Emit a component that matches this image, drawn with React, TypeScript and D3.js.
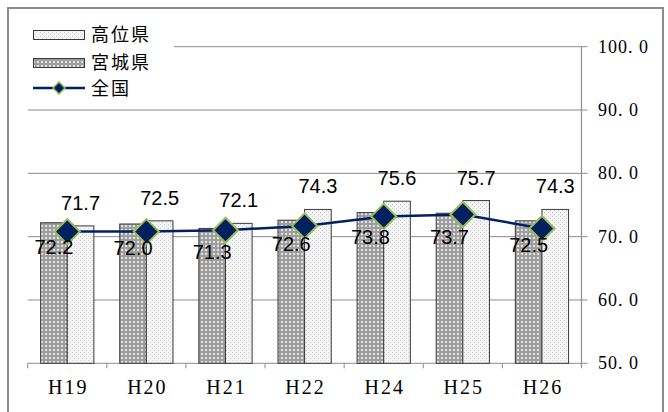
import React from "react";
import * as d3 from "d3";

const categories = ["H19", "H20", "H21", "H22", "H24", "H25", "H26"];
const kochiValues = [71.7, 72.5, 72.1, 74.3, 75.6, 75.7, 74.3];
const miyagiValues = [72.2, 72.0, 71.3, 72.6, 73.8, 73.7, 72.5];
const zenkokuValues = [70.8, 70.8, 71.0, 71.7, 73.2, 73.5, 71.3];
const yTicks = [50, 60, 70, 80, 90, 100];
const seriesNames = ["高位県", "宮城県", "全国"];

const W = 668;
const H = 412;
const plotLeft = 27.7;
const plotRight = 581.5;
const plotTop = 46.7;
const plotBottom = 363.3;

const NAVY = "#002060";
const GREEN = "#9BBB59";
const GRID = "#8c8c8c";

export default function App() {
  const x = d3.scaleBand<string>().domain(categories).range([plotLeft, plotRight]).padding(0);
  const y = d3.scaleLinear().domain([50, 100]).range([plotBottom, plotTop]);
  const groupW = x.bandwidth() * 0.673;
  const barW = groupW / 2;
  const cx = (c: string) => (x(c) as number) + x.bandwidth() / 2;

  const line = d3
    .line<number>()
    .x((_, i) => cx(categories[i]))
    .y((v) => y(v));

  const diamond = (px: number, py: number, r: number) =>
    `M${px},${py - r}L${px + r},${py}L${px},${py + r}L${px - r},${py}Z`;

  const labelFont = "'Liberation Sans', Arial, sans-serif";
  const serif = "'Liberation Serif', 'Times New Roman', serif";
  const cjk = "'Noto Sans CJK JP', 'Noto Sans', sans-serif";

  const boundaries = d3.range(categories.length + 1).map((i) => plotLeft + i * x.bandwidth());

  return (
    <svg width={W} height={H} style={{ position: "absolute", left: 0, top: 0 }}>
      <defs>
        <pattern id="lightPat" width="4" height="4" patternUnits="userSpaceOnUse">
          <rect width="4" height="4" fill="#f3f3f3" />
          <rect x="0" y="0" width="1" height="1" fill="#d6d6d6" />
          <rect x="2" y="2" width="1" height="1" fill="#d6d6d6" />
        </pattern>
        <pattern id="darkPat" width="4" height="4" patternUnits="userSpaceOnUse">
          <rect width="4" height="4" fill="#9e9e9e" />
          <rect x="1" y="1" width="2" height="2" fill="#e4e4e4" />
        </pattern>
      </defs>
      <rect x={0} y={0} width={W} height={H} fill="#fff" />
      {/* outer frame */}
      <rect x={8} y={8} width={655} height={410} fill="none" stroke={GRID} strokeWidth={2} />

      {/* gridlines */}
      {yTicks.map((t) => (
        <line key={"g" + t} x1={plotLeft} x2={plotRight + 6} y1={y(t)} y2={y(t)} stroke={GRID} strokeWidth={1} />
      ))}
      {/* y axis */}
      <line x1={plotRight} x2={plotRight} y1={plotTop} y2={plotBottom + 4} stroke={GRID} strokeWidth={1.2} />
      {/* x axis ticks */}
      {boundaries.map((bx, i) => (
        <line key={"xt" + i} x1={bx} x2={bx} y1={plotBottom} y2={plotBottom + 5} stroke={GRID} strokeWidth={1} />
      ))}

      {/* y labels */}
      {yTicks.map((t) => (
        <text
          key={"yl" + t}
          x={598}
          y={y(t) + 6}
          fontFamily={serif}
          fontSize={18}
          letterSpacing={1}
          fill="#000"
        >
          {t.toFixed(0) + ". 0"}
        </text>
      ))}
      {/* x labels */}
      {categories.map((c) => (
        <text
          key={"xl" + c}
          x={cx(c) + 1}
          y={394}
          textAnchor="middle"
          fontFamily={serif}
          fontSize={20}
          letterSpacing={2}
          fill="#000"
        >
          {c}
        </text>
      ))}

      {/* bars */}
      {categories.map((c, i) => (
        <g key={"b" + c}>
          <rect
            x={cx(c) - barW}
            y={y(miyagiValues[i])}
            width={barW}
            height={plotBottom - y(miyagiValues[i])}
            fill="url(#darkPat)"
            stroke="#3a3a3a"
            strokeWidth={1}
          />
          <rect
            x={cx(c)}
            y={y(kochiValues[i])}
            width={barW}
            height={plotBottom - y(kochiValues[i])}
            fill="url(#lightPat)"
            stroke="#3a3a3a"
            strokeWidth={1}
          />
        </g>
      ))}

      {/* line */}
      <path d={line(zenkokuValues) || ""} fill="none" stroke={NAVY} strokeWidth={2.5} />
      {zenkokuValues.map((v, i) => (
        <path
          key={"d" + i}
          d={diamond(cx(categories[i]), y(v), 12.5)}
          fill={NAVY}
          stroke={GREEN}
          strokeWidth={2}
        />
      ))}

      {/* data labels */}
      {categories.map((c, i) => (
        <g key={"l" + c}>
          <text
            x={cx(c) + barW / 2}
            y={y(kochiValues[i]) - 23 + 7}
            textAnchor="middle"
            fontFamily={labelFont}
            fontSize={20}
            fill="#000"
          >
            {kochiValues[i].toFixed(1)}
          </text>
          <text
            x={cx(c) - barW / 2}
            y={y(miyagiValues[i]) + 24 + 7}
            textAnchor="middle"
            fontFamily={labelFont}
            fontSize={20}
            fill="#000"
          >
            {miyagiValues[i].toFixed(1)}
          </text>
        </g>
      ))}

      {/* legend */}
      <rect x={22} y={14} width={152} height={88} fill="#fff" />
      <rect x={33.5} y={30.5} width={51} height={9} fill="url(#lightPat)" stroke="#3a3a3a" strokeWidth={1} />
      <text x={91} y={41} fontFamily={cjk} fontSize={18} letterSpacing={2} fill="#000">
        {seriesNames[0]}
      </text>
      <rect x={33.5} y={58.5} width={51} height={9} fill="url(#darkPat)" stroke="#3a3a3a" strokeWidth={1} />
      <text x={91} y={69} fontFamily={cjk} fontSize={18} letterSpacing={2} fill="#000">
        {seriesNames[1]}
      </text>
      <line x1={33} x2={85} y1={88} y2={88} stroke={NAVY} strokeWidth={2.5} />
      <path d={diamond(59, 88, 6)} fill={NAVY} stroke={GREEN} strokeWidth={1.5} />
      <text x={91} y={95} fontFamily={cjk} fontSize={18} letterSpacing={2} fill="#000">
        {seriesNames[2]}
      </text>
    </svg>
  );
}
